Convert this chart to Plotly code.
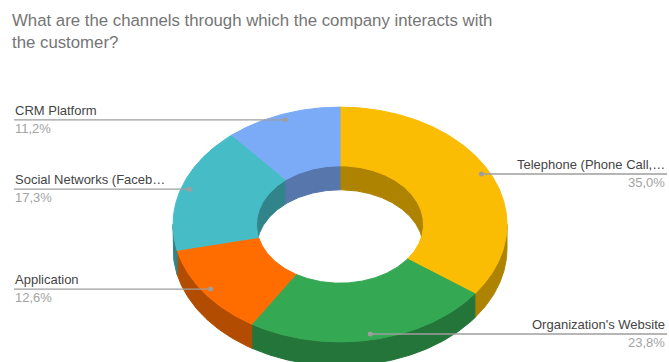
import numpy as np
import plotly.graph_objects as go

# Channel shares (percent of respondents)
channels = ["Telephone (Phone Call,…", "Organization's Website", "Application",
            "Social Networks (Faceb…", "CRM Platform"]
shares = [35.0, 23.8, 12.6, 17.3, 11.2]
colors = ["#fbbc04", "#34a853", "#ff6d01", "#46bdc6", "#7baaf7"]

title_text = ("What are the channels through which the company interacts with"
              "<br>the customer?")

# Canvas / projection settings (pixel space, y grows downward)
W, H = 669, 362
CX, CY = 340.0, 224.5
R_OUT = 167.0
R_IN = 0.5 * R_OUT
TILT = 0.703          # vertical squash of the tilted ring
DEPTH = 24.0          # thickness of the ring
DOT_R = 0.95 * R_OUT  # where leader lines touch the slices
LEFT_X, RIGHT_X = 14, 666
FONT = "Arial, Liberation Sans, sans-serif"


def shade(hex_color, f=0.7):
    h = hex_color.lstrip("#")
    r, g, b = (int(h[i:i + 2], 16) for i in (0, 2, 4))
    return "#{:02x}{:02x}{:02x}".format(int(r * f), int(g * f), int(b * f))


def project(theta_deg, r, dz=0.0):
    t = np.radians(theta_deg)
    return CX + r * np.sin(t), CY - r * TILT * np.cos(t) + dz


def arc(a, b, r, dz=0.0):
    n = max(2, int(abs(b - a) * 2) + 2)
    th = np.linspace(a, b, n)
    return project(th, r, dz)


def wall(a, b, r):
    x1, y1 = arc(a, b, r)
    x2, y2 = arc(b, a, r, DEPTH)
    return np.concatenate([x1, x2, x1[:1]]), np.concatenate([y1, y2, y1[:1]])


def face(a, b):
    x1, y1 = arc(a, b, R_OUT)
    x2, y2 = arc(b, a, R_IN)
    return np.concatenate([x1, x2, x1[:1]]), np.concatenate([y1, y2, y1[:1]])


def clip(a, b, lo, hi):
    s, e = max(a, lo), min(b, hi)
    return (s, e) if e > s else None


def poly(x, y, color):
    return go.Scatter(x=x, y=y, mode="lines", fill="toself", fillcolor=color,
                      line=dict(color=color, width=1), hoverinfo="skip",
                      showlegend=False)


total = sum(shares)
bounds = []
start = 0.0
for v in shares:
    span = v / total * 360.0
    bounds.append((start, start + span))
    start += span

fig = go.Figure()

# inner wall seen through the hole (back half of the ring)
for (a, b), c in zip(bounds, colors):
    for lo, hi in ((0, 90), (270, 360)):
        seg = clip(a, b, lo, hi)
        if seg:
            fig.add_trace(poly(*wall(seg[0], seg[1], R_IN), shade(c)))

# outer wall on the front half
for (a, b), c in zip(bounds, colors):
    seg = clip(a, b, 90, 270)
    if seg:
        fig.add_trace(poly(*wall(seg[0], seg[1], R_OUT), shade(c)))

# top faces
for (a, b), c in zip(bounds, colors):
    fig.add_trace(poly(*face(a, b), c))

# leader lines and labels
annotations = []
for name, v, (a, b) in zip(channels, shares, bounds):
    mid = (a + b) / 2
    dx, dy = project(mid, DOT_R)
    dx, dy = float(dx), float(dy)
    right = mid < 180
    if right:
        lx = [dx, RIGHT_X + 1]
        tx, anchor = RIGHT_X, "right"
    else:
        lx = [LEFT_X, dx]
        tx, anchor = LEFT_X, "left"
    fig.add_trace(go.Scatter(x=lx, y=[dy, dy], mode="lines",
                             line=dict(color="#9e9e9e", width=1.3),
                             hoverinfo="skip", showlegend=False))
    fig.add_trace(go.Scatter(x=[dx], y=[dy], mode="markers",
                             marker=dict(color="#9e9e9e", size=5),
                             hoverinfo="skip", showlegend=False))
    pct = f"{v:.1f}".replace(".", ",") + "%"
    annotations.append(dict(x=tx, y=dy, xref="x", yref="y", text=name,
                            showarrow=False, xanchor=anchor, yanchor="bottom",
                            borderpad=0, yshift=1,
                            font=dict(family=FONT, size=13, color="#444444")))
    annotations.append(dict(x=tx, y=dy, xref="x", yref="y", text=pct,
                            showarrow=False, xanchor=anchor, yanchor="top",
                            borderpad=0, yshift=0,
                            font=dict(family=FONT, size=13, color="#a3a3a3")))

# chart title, two lines, top-left
annotations.append(dict(x=0, y=1, xref="paper", yref="paper", text=title_text,
                        showarrow=False, xanchor="left", yanchor="top",
                        align="left", borderpad=0, xshift=11, yshift=-10,
                        font=dict(family=FONT, size=16.8, color="#757575")))

fig.update_layout(
    width=W, height=H, autosize=False,
    margin=dict(l=0, r=0, t=0, b=0),
    paper_bgcolor="white", plot_bgcolor="white",
    xaxis=dict(range=[0, W], visible=False, fixedrange=True),
    yaxis=dict(range=[H, 0], visible=False, fixedrange=True),
    annotations=annotations,
)

fig.write_html("out.html")
